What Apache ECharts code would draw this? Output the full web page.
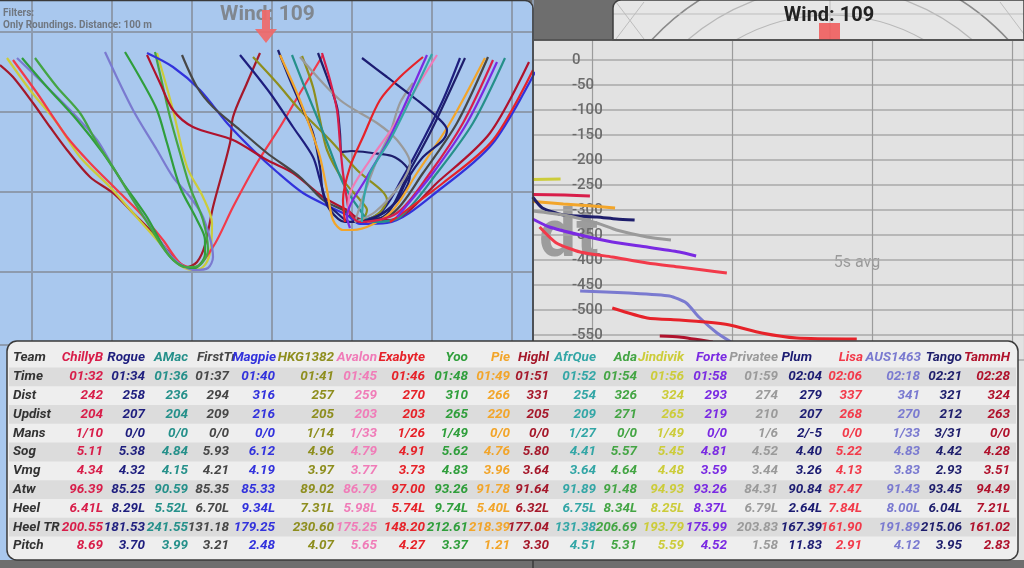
<!DOCTYPE html>
<html lang="en">
<head>
<meta charset="UTF-8">
<meta name="viewport" content="width=device-width, initial-scale=1.0">
<title>Roundings</title>
<script src="https://cdn.jsdelivr.net/npm/echarts@6/dist/echarts.min.js"></script>
<style>
  html, body { margin: 0; padding: 0; background: #6e6e6e; }
  #chart { width: 1024px; height: 568px; }
</style>
</head>
<body>
<div id="chart"></div>
<script>
  // --- table data ---
  const teams   = ['ChillyB','Rogue','AMac','FirstTr','Magpie','HKG1382','Avalon','Exabyte','Yoo','Pie','Highl','AfrQue','Ada','Jindivik','Forte','Privatee','Plum','Lisa','AUS1463','Tango','TammH'];
  const times   = ['01:32','01:34','01:36','01:37','01:40','01:41','01:45','01:46','01:48','01:49','01:51','01:52','01:54','01:56','01:58','01:59','02:04','02:06','02:18','02:21','02:28'];
  const dist    = [242,258,236,294,316,257,259,270,310,266,331,254,326,324,293,274,279,337,341,321,324];
  const updist  = [204,207,204,209,216,205,203,203,265,220,205,209,271,265,219,210,207,268,270,212,263];
  const mans    = ['1/10','0/0','0/0','0/0','0/0','1/14','1/33','1/26','1/49','0/0','0/0','1/27','0/0','1/49','0/0','1/6','2/-5','0/0','1/33','3/31','0/0'];
  const sog     = [5.11,5.38,4.84,5.93,6.12,4.96,4.79,4.91,5.62,4.76,5.80,4.41,5.57,5.45,4.81,4.52,4.40,5.22,4.83,4.42,4.28];
  const vmg     = [4.34,4.32,4.15,4.21,4.19,3.97,3.77,3.73,4.83,3.96,3.64,3.64,4.64,4.48,3.59,3.44,3.26,4.13,3.83,2.93,3.51];
  const atw     = [96.39,85.25,90.59,85.35,85.33,89.02,86.79,97.00,93.26,91.78,91.64,91.89,91.48,94.93,93.26,84.31,90.84,87.47,91.43,93.45,94.49];
  const heel    = [6.41,8.29,5.52,6.70,9.34,7.31,5.98,5.74,9.74,5.40,6.32,6.75,8.34,8.25,8.37,6.79,2.64,7.84,8.00,6.04,7.21];
  const heelTr  = [200.55,181.53,241.55,131.18,179.25,230.60,175.25,148.20,212.61,218.39,177.04,131.38,206.69,193.79,175.99,203.83,167.39,161.90,191.89,215.06,161.02];
  const pitch   = [8.69,3.70,3.99,3.21,2.48,4.07,5.65,4.27,3.37,1.21,3.30,4.51,5.31,5.59,4.52,1.58,11.83,2.91,4.12,3.95,2.83];
  const rowLabels = ['Team','Time','Dist','Updist','Mans','Sog','Vmg','Atw','Heel','Heel TR','Pitch'];

  const teamColors = ['#d81e4a','#1e1e7e','#25908a','#474747','#3232dc','#8e8e1e','#f07cb8','#e62229','#2f9e3b','#f2a52a','#a5182a','#33a6a6','#44a544','#cccc3a','#7a2ae2','#9a9a9a','#1c1c72','#f23a4a','#7a7ad0','#1e1e6c','#b0122c'];

  // --- rounding tracks (metres, origin at first grid line, y grows downwind) ---
  const tracks = [
    { team: 'Highl',    pts: [[-32,33],[-19,45],[1,71],[18,95],[35,118],[58,145],[81,161],[101,181],[121,201],[141,225],[155,235],[165,230],[173,213],[181,175],[198,111],[201,85],[215,51],[228,21]] },
    { team: 'Jindivik', pts: [[-25,26],[-2,58],[25,91],[48,125],[78,155],[101,181],[125,208],[145,231],[160,238],[171,235],[178,221],[180,191],[171,165],[155,135],[141,78],[125,21]] },
    { team: 'Lisa',     pts: [[-19,28],[5,61],[35,105],[58,131],[85,158],[108,181],[131,208],[148,231],[161,236],[181,215],[201,175],[225,131],[248,95],[268,61],[291,23]] },
    { team: 'AUS1463',  pts: [[-15,26],[15,55],[41,81],[65,108],[81,135],[101,168],[121,198],[143,228],[163,238],[176,236],[181,225],[171,185],[158,165],[141,145],[125,118],[101,78],[73,20]] },
    { team: 'Yoo',      pts: [[-10,26],[15,55],[45,88],[71,121],[91,151],[115,185],[135,221],[148,233],[163,236],[173,222],[173,208],[165,188],[148,155],[135,111],[125,78],[111,51],[93,20]] },
    { team: 'Ada',      pts: [[3,26],[25,55],[48,81],[65,111],[81,135],[101,168],[118,195],[135,221],[153,235],[166,234],[176,218],[171,188],[158,155],[148,121],[138,85],[131,55],[123,20]] },
    { team: 'Magpie',   pts: [[115,21],[141,35],[168,58],[195,91],[221,118],[245,140],[271,161],[298,175],[315,183],[328,192],[355,191],[411,155],[461,111],[503,40]] },
    { team: 'TammH',    pts: [[115,23],[128,51],[141,78],[161,95],[201,108],[235,128],[261,141],[291,165],[315,178],[328,187],[358,188],[408,148],[458,101],[497,30]] },
    { team: 'FirstTr',  pts: [[150,23],[165,55],[181,75],[208,98],[235,121],[268,145],[291,168],[311,178],[328,188],[361,181],[391,141],[425,91],[456,25]] },
    { team: 'Rogue',    pts: [[208,23],[238,61],[261,95],[281,125],[288,148],[295,171],[305,181],[318,190],[348,181],[371,145],[391,108],[411,68],[428,26]] },
    { team: 'HKG1382',  pts: [[221,25],[245,51],[268,78],[298,108],[325,138],[355,168],[348,180],[333,190]] },
    { team: 'HKG1382',  pts: [[270,24],[281,55],[288,88],[295,118],[311,148],[328,168],[335,178],[330,190]] },
    { team: 'Tango',    pts: [[246,18],[258,48],[271,78],[281,101],[288,135],[291,161],[298,178],[313,190],[351,185],[378,138],[401,95],[433,26]] },
    { team: 'Tango',    pts: [[286,21],[295,45],[305,75],[308,101],[310,120],[320,119],[340,121],[360,124],[373,133],[378,143],[370,163],[353,180],[333,190]] },
    { team: 'Pie',      pts: [[248,23],[265,61],[278,95],[288,125],[295,158],[301,188],[311,198],[321,198],[358,181],[385,141],[418,91],[453,26]] },
    { team: 'AMac',     pts: [[260,23],[271,51],[285,85],[298,118],[311,151],[328,178],[340,190],[368,185],[405,141],[441,91],[473,26]] },
    { team: 'Privatee', pts: [[268,25],[308,68],[345,91],[365,108],[378,131],[368,153],[343,180],[323,190],[330,168],[345,128],[358,101],[368,71],[381,51]] },
    { team: 'Plum',     pts: [[330,26],[355,45],[385,68],[405,85],[415,98],[411,108],[391,125],[375,148],[365,168],[351,181],[330,190]] },
    { team: 'ChillyB',  pts: [[290,21],[298,48],[305,78],[308,111],[311,141],[315,168],[318,181],[328,190],[365,181],[398,141],[431,91],[461,28]] },
    { team: 'Exabyte',  pts: [[313,190],[311,168],[318,135],[331,105],[348,68],[368,45],[391,25]] },
    { team: 'Exabyte',  pts: [[358,190],[411,151],[461,108],[501,38]] },
    { team: 'Avalon',   pts: [[316,183],[318,161],[338,128],[361,95],[385,55],[405,23]] },
    { team: 'Forte',    pts: [[318,196],[315,185],[335,145],[355,111],[375,68],[395,23]] },
    { team: 'Forte',    pts: [[365,185],[401,141],[435,91],[465,30]] },
    { team: 'AfrQue',   pts: [[330,190],[331,171],[338,141],[358,108],[378,68],[400,22]] }
  ];

  // --- distance lines (seconds, metres) ---
  const distLines = [
    { team: 'Jindivik', pts: [[-4.3,-239],[-2.3,-238]] },
    { team: 'ChillyB',  pts: [[-4.3,-269],[-2.0,-270],[-0.2,-272]] },
    { team: 'Pie',      pts: [[-4.3,-283],[-2.1,-288],[0,-292],[1.6,-296]] },
    { team: 'Tango',    pts: [[-4.3,-274],[-3.6,-296],[-2.1,-310],[0.3,-314],[1.7,-318],[3.0,-320]] },
    { team: 'Privatee', pts: [[-4.3,-302],[-2.1,-310],[0.3,-326],[1.7,-340],[3.9,-354],[5.6,-360]] },
    { team: 'Forte',    pts: [[-4.3,-318],[-3.1,-334],[-0.9,-350],[1.4,-364],[3.9,-374],[6.2,-384],[7.4,-392]] },
    { team: 'Lisa',     pts: [[-3.8,-334],[-2.6,-366],[-0.9,-384],[1.4,-394],[3.9,-406],[6.2,-414],[7.9,-420],[9.6,-426]] },
    { team: 'AUS1463',  pts: [[-0.9,-462],[2.6,-466],[5.5,-472],[6.7,-486],[7.6,-514],[8.9,-546],[9.9,-564]] },
    { team: 'Exabyte',  pts: [[1.4,-496],[3.9,-516],[6.2,-520],[8.1,-524],[9.8,-530],[12.1,-546],[14.6,-556],[18.9,-558]] },
    { team: 'TammH',    pts: [[4.8,-552],[6.2,-554],[8.6,-564]] }
  ];

  // table layout
  const colRight  = [103,145,188,229,275,334,377,425,468,510,549,596,637,684,727,778,822,862,920,962,1010];
  const headRight = [103,145,188,236,276,334,377,425,468,510,549,596,637,684,727,778,812,863,921,962,1010];
  const rowY0 = 358, rowStep = 18.8;
  const cellFont = 'italic bold 13.5px Roboto';

  function colorOf(team) { return teamColors[teams.indexOf(team)]; }
  const f2 = v => v.toFixed(2);

  const rows = [
    teams, times, dist.map(String), updist.map(String), mans,
    sog.map(f2), vmg.map(f2), atw.map(f2), heel.map(v => f2(v) + 'L'),
    heelTr.map(f2), pitch.map(f2)
  ];

  function txt(x, y, text, font, fill, align, z) {
    return {
      type: 'text', x: x, y: y, z: z, silent: true,
      style: { text: text, font: font, fill: fill, align: align, textAlign: align,
               verticalAlign: 'middle', textVerticalAlign: 'middle' }
    };
  }

  const elements = [];

  // right chart background and top compass panel
  elements.push({ type: 'rect', z: 0, silent: true, shape: { x: 533, y: 40, width: 491, height: 520 }, style: { fill: '#e2e2e2' } });
  elements.push({ type: 'rect', z: 0, silent: true, shape: { x: 613, y: 0, width: 411, height: 40, r: [8, 0, 0, 0] }, style: { fill: '#e6e6e6' } });
  [190, 218, 243].forEach(function (r, i) {
    const a = Math.acos(165 / r);
    elements.push({ type: 'arc', z: 1, silent: true,
      shape: { cx: 830, cy: 205, r: r, startAngle: -Math.PI / 2 - a, endAngle: -Math.PI / 2 + a, clockwise: true },
      style: { stroke: i === 2 ? '#8a8a8a' : '#b8b8b8', fill: null, lineWidth: i === 2 ? 1.6 : 1.2 } });
  });
  [[613, 14, 1024, 14], [830, 0, 830, 40], [616, 2, 644, 39], [644, 2, 616, 39], [1000, 2, 1024, 34]].forEach(function (l) {
    elements.push({ type: 'line', z: 1, silent: true, shape: { x1: l[0], y1: l[1], x2: l[2], y2: l[3] }, style: { stroke: '#bdbdbd', lineWidth: 1 } });
  });
  elements.push({ type: 'rect', z: 1, silent: true, shape: { x: 613, y: 0, width: 411, height: 40, r: [8, 0, 0, 0] }, style: { fill: null, stroke: '#3e3e3e', lineWidth: 1.5 } });
  elements.push({ type: 'rect', z: 2, silent: true, shape: { x: 819, y: 23, width: 21, height: 17 }, style: { fill: 'rgba(240,85,85,0.85)' } });
  elements.push(txt(829, 16, 'Wind: 109', 'bold 20px Roboto', '#222222', 'center', 2));
  elements.push({ type: 'line', z: 2, silent: true, shape: { x1: 533, y1: 40, x2: 1024, y2: 40 }, style: { stroke: '#3e3e3e', lineWidth: 1.5 } });
  elements.push({ type: 'text', x: 539, y: 272, z: 1, silent: true,
    style: { text: 'dt', font: 'bold 66px Roboto', fill: '#9c9c9c', align: 'left', textAlign: 'left', verticalAlign: 'bottom', textVerticalAlign: 'bottom' } });
  elements.push(txt(857, 263, '5s avg', '16px Roboto', '#9a9a9a', 'center', 1));

  // left map panel
  elements.push({ type: 'rect', z: 3, silent: true, shape: { x: 0, y: 0, width: 533, height: 560, r: [0, 8, 0, 0] }, style: { fill: '#a9c8ee' } });
  elements.push({ type: 'rect', z: 6, silent: true, shape: { x: -2, y: 0.5, width: 535, height: 600, r: [0, 8, 0, 0] }, style: { fill: null, stroke: '#3a3a3a', lineWidth: 1.5 } });
  elements.push(txt(3, 13, 'Filters:', 'bold 10px Roboto', '#707780', 'left', 6));
  elements.push(txt(3, 25, 'Only Roundings. Distance: 100 m', 'bold 10px Roboto', '#707780', 'left', 6));
  elements.push(txt(220, 15, 'Wind: 109', 'bold 21px Roboto', '#80878f', 'left', 6));
  elements.push({ type: 'polygon', z: 7, silent: true,
    shape: { points: [[262, 10], [270, 10], [270, 29], [277, 29], [266, 43], [255, 29], [262, 29]] },
    style: { fill: 'rgba(240,105,105,0.92)' } });

  // table
  elements.push({ type: 'rect', z: 10, silent: true, shape: { x: 7, y: 341, width: 1011, height: 219, r: 10 }, style: { fill: '#eeeeee', stroke: '#3a3a3a', lineWidth: 1.5 } });
  rows.forEach(function (vals, ri) {
    const y = rowY0 + ri * rowStep;
    if (ri % 2 === 1) {
      elements.push({ type: 'rect', z: 11, silent: true, shape: { x: 9, y: y - rowStep / 2, width: 1007, height: rowStep }, style: { fill: '#dcdcdc' } });
    }
    elements.push(txt(13, y, rowLabels[ri], cellFont, '#333333', 'left', 12));
    vals.forEach(function (v, ci) {
      const x = ri === 0 ? headRight[ci] : colRight[ci];
      elements.push(txt(x, y, v, cellFont, teamColors[ci], 'right', 12));
    });
  });

  const series = [];
  tracks.forEach(function (t) {
    series.push({
      type: 'line', xAxisIndex: 0, yAxisIndex: 0, data: t.pts, name: t.team,
      showSymbol: false, smooth: 0.3, silent: true, z: 5,
      lineStyle: { color: colorOf(t.team), width: 2.2 }
    });
  });
  distLines.forEach(function (d) {
    series.push({
      type: 'line', xAxisIndex: 1, yAxisIndex: 1, data: d.pts, name: d.team,
      showSymbol: false, smooth: 0.2, silent: true, z: 5,
      lineStyle: { color: colorOf(d.team), width: 3 }
    });
  });

  const hidden = { axisLine: { show: false }, axisTick: { show: false } };

  const option = {
    backgroundColor: '#6e6e6e',
    animation: false,
    grid: [
      { left: -48, top: -48, width: 581, height: 393, outerBoundsMode: 'none', containLabel: false },
      { left: 453, top: 40, width: 571, height: 320, outerBoundsMode: 'none', containLabel: false }
    ],
    xAxis: [
      Object.assign({ gridIndex: 0, type: 'value', min: -80, max: 501, interval: 80, z: 4,
        axisLabel: { show: false }, splitLine: { lineStyle: { color: '#8d9bae', width: 2 } } }, hidden),
      Object.assign({ gridIndex: 1, type: 'value', min: -10, max: 30.87, interval: 10, z: 1,
        axisLabel: { show: false }, splitLine: { lineStyle: { color: '#9c9c9c', width: 1.2 } } }, hidden)
    ],
    yAxis: [
      Object.assign({ gridIndex: 0, type: 'value', inverse: true, min: -80, max: 313, interval: 80, z: 4,
        axisLabel: { show: false }, splitLine: { lineStyle: { color: '#8d9bae', width: 2 } } }, hidden),
      Object.assign({ gridIndex: 1, type: 'value', min: -600, max: 40, interval: 50, z: 1, offset: -117,
        axisLabel: { inside: true, margin: 2, color: '#6b6b6b', fontSize: 15, fontFamily: 'Roboto', fontWeight: 500,
          formatter: function (v) { return v > 0 ? '' : String(v); } },
        splitLine: { lineStyle: { color: '#a9a9a9', width: 1.5 } } }, hidden)
    ],
    graphic: { elements: elements },
    series: series
  };

  const chart = echarts.init(document.getElementById('chart'));
  chart.setOption(option);
</script>
</body>
</html>
